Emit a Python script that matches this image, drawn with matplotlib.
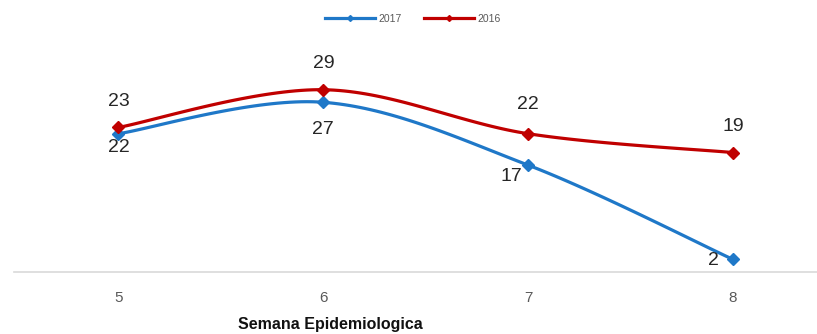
import numpy as np
from matplotlib import pyplot as plt

# data
weeks = [5, 6, 7, 8]
cases_2017 = [22, 27, 17, 2]
cases_2016 = [23, 29, 22, 19]

# label offsets (pixels) per point
offs_2017 = [(0, -14), (0, -27), (-17, -11), (-20, -1)]
offs_2016 = [(0, 26), (0, 26), (0, 29), (0, 26)]

c2017 = '#1F78C8'
c2016 = '#C00000'


def smooth(x, y, n=40):
    ''' excel-like smoothed line (bezier through the points) '''
    P = np.column_stack([x, y]).astype(float)
    xs, ys = [], []
    for i in range(len(P) - 1):
        p0 = P[max(i - 1, 0)]
        p1 = P[i]
        p2 = P[i + 1]
        p3 = P[min(i + 2, len(P) - 1)]
        c1 = p1 + (p2 - p0) / 6.
        c2 = p2 - (p3 - p1) / 6.
        t = np.linspace(0, 1, n)[:, None]
        b = (1-t)**3*p1 + 3*(1-t)**2*t*c1 + 3*(1-t)*t**2*c2 + t**3*p2
        xs.extend(b[:, 0]); ys.extend(b[:, 1])
    return np.array(xs), np.array(ys)


fig = plt.figure(figsize=(8.17, 3.34), dpi=100)
ax = fig.add_axes([14/817, 62/334, 803/817, 220/334])

for vals, col, offs, lab in [(cases_2017, c2017, offs_2017, '2017'),
                             (cases_2016, c2016, offs_2016, '2016')]:
    sx, sy = smooth(weeks, vals)
    ax.plot(sx, sy, color=col, lw=2.3, solid_capstyle='round')
    ax.plot(weeks, vals, ls='none', marker='D', ms=6, color=col)
    ax.plot([], [], color=col, lw=2.3, marker='D', ms=3, label=lab)
    for w, v, (dx, dy) in zip(weeks, vals, offs):
        ax.annotate(str(v), (w, v), xytext=(dx, dy), textcoords='offset pixels',
                    ha='center', va='center', fontsize=14, color='#262626',
                    family='Liberation Sans')

ax.set_xlim(4.49, 8.41)
ax.set_ylim(0, 35)
ax.set_xticks(weeks)
ax.set_xticklabels([str(w) for w in weeks], fontsize=11, color='#595959',
                   family='Liberation Sans')
ax.tick_params(axis='x', length=0, pad=14)
ax.set_yticks([])
for s in ['top', 'left', 'right']:
    ax.spines[s].set_visible(False)
ax.spines['bottom'].set_color('#D9D9D9')
ax.spines['bottom'].set_linewidth(1.2)

fig.text(330/817, 1 - 325/334, 'Semana Epidemiologica', ha='center', va='center',
         fontsize=11.5, fontweight='bold', color='#111111',
         family='Liberation Sans')

fig.legend(loc='center', bbox_to_anchor=(413/817, 1 - 19/334), ncol=2,
           frameon=False, labelcolor='#595959', handlelength=4.8,
           columnspacing=2.2, handletextpad=0.3,
           prop={'family': 'Liberation Sans', 'size': 7.5})

plt.savefig('out.png', dpi=100)
